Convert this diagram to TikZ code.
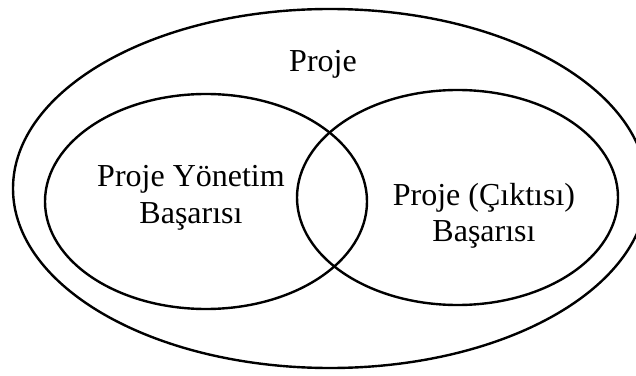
\documentclass[tikz,border=0pt]{standalone}
\usepackage{fontspec}
\setmainfont{Liberation Serif}
\begin{document}
\begin{tikzpicture}[x=1pt,y=1pt,
  ring/.style={draw=black,line width=2.4pt},
  lbl/.style={anchor=base,font=\fontsize{32}{36}\selectfont,inner sep=0pt}]
\useasboundingbox (0,0) rectangle (636,375);
\clip (0,0) rectangle (636,375);
\fill[white] (0,0) rectangle (636,375);
\draw[ring] (330,186.5) ellipse [x radius=317, y radius=179.5];
\draw[ring] (206,173.5) ellipse [x radius=161, y radius=107.5];
\draw[ring] (457.5,177.5) ellipse [x radius=160.5, y radius=107.5];
\node[lbl] (proje) at (323,303) {Proje};
\node[lbl] (pyb1) at (191,188) {Proje Yönetim};
\node[lbl] (pyb2) at (191,152) {Başarısı};
\node[lbl] (pcb1) at (484,170) {Proje (Çıktısı)};
\node[lbl] (pcb2) at (484,134) {Başarısı};
\end{tikzpicture}
\end{document}
